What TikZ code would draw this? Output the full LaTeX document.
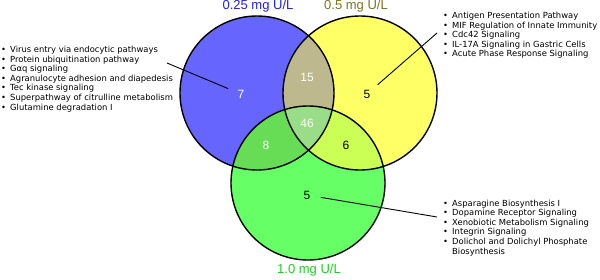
\documentclass[tikz,border=0pt]{standalone}
\usepackage{fontspec}
\setmainfont{Liberation Sans}
\newfontfamily\listfont{DejaVu Sans}
\usetikzlibrary{positioning,calc}

\definecolor{vblue}{HTML}{6666FF}
\definecolor{vyel}{HTML}{FFFF66}
\definecolor{vgrn}{HTML}{66FF66}
\definecolor{vby}{HTML}{BDB88E}
\definecolor{vbg}{HTML}{66DD55}
\definecolor{vyg}{HTML}{CCFF55}
\definecolor{vbyg}{HTML}{99DD88}
\definecolor{lblue}{HTML}{2222DD}
\definecolor{lolive}{HTML}{777722}
\definecolor{lgreen}{HTML}{22CC22}

\newcommand{\bul}{\makebox[9pt][l]{\textbullet}}
\newcommand{\nobul}{\makebox[9pt][l]{}}

\begin{document}
\begin{tikzpicture}[x=1pt, y=-1pt,
  ring/.style={draw=black, line width=1.4pt},
  count/.style={circle, inner sep=6pt, font=\fontsize{12}{14}\selectfont},
  conc/.style={font=\fontsize{13}{15}\selectfont},
  plist/.style={anchor=north west, inner sep=0pt, align=left,
    font=\listfont\fontsize{8.4}{9.6}\selectfont},
  pointer/.style={black, line width=0.9pt}]
\useasboundingbox (0,0) rectangle (600,279);
\coordinate (cB) at (257,93);
\coordinate (cY) at (360,93);
\coordinate (cG) at (308,183);

% filled sets and overlaps
\fill[vblue] (cB) circle[radius=77pt];
\fill[vyel] (cY) circle[radius=77pt];
\fill[vgrn] (cG) circle[radius=77pt];
\begin{scope}
  \clip (cB) circle[radius=77pt];
  \fill[vby] (cY) circle[radius=77pt];
  \fill[vbg] (cG) circle[radius=77pt];
\end{scope}
\begin{scope}
  \clip (cY) circle[radius=77pt];
  \fill[vyg] (cG) circle[radius=77pt];
  \clip (cB) circle[radius=77pt];
  \fill[vbyg] (cG) circle[radius=77pt];
\end{scope}
\draw[ring] (cB) circle[radius=77pt];
\draw[ring] (cY) circle[radius=77pt];
\draw[ring] (cG) circle[radius=77pt];

% set labels
\node[conc, text=lblue] (tB) at (258,6) {0.25 mg U/L};
\node[conc, text=lolive] (tY) at (356,6) {0.5 mg U/L};
\node[conc, text=lgreen] (tG) at (309,270) {1.0 mg U/L};

% counts
\node[count, text=white] (n7) at (241,94) {7};
\node[count, text=white] (n15) at (307,77) {15};
\node[count] (n5y) at (367,94) {5};
\node[count, text=white] (n46) at (307,123) {46};
\node[count, text=white] (n8) at (266,145) {8};
\node[count] (n6) at (346,145) {6};
\node[count] (n5g) at (307,195) {5};

% pathway lists
\node[plist] (pB) at (1,46) {\bul Virus entry via endocytic pathways\\
  \bul Protein ubiquitination pathway\\
  \bul Gαq signaling\\
  \bul Agranulocyte adhesion and diapedesis\\
  \bul Tec kinase signaling\\
  \bul Superpathway of citrulline metabolism\\
  \bul Glutamine degradation I};
\node[plist] (pY) at (443,12) {\bul Antigen Presentation Pathway\\
  \bul MIF Regulation of Innate Immunity\\
  \bul Cdc42 Signaling\\
  \bul IL-17A Signaling in Gastric Cells\\
  \bul Acute Phase Response Signaling};
\node[plist] (pG) at (443,199.5) {\bul Asparagine Biosynthesis I\\
  \bul Dopamine Receptor Signaling\\
  \bul Xenobiotic Metabolism Signaling\\
  \bul Integrin Signaling\\
  \bul Dolichol and Dolichyl Phosphate\\
  \nobul Biosynthesis};

% pointers
\coordinate (eB) at (167,63);
\coordinate (eY) at (437,33);
\coordinate (eG) at (437,217);
\draw[pointer] (n7) -- (eB);
\draw[pointer] (n5y) -- (eY);
\draw[pointer] (n5g) -- (eG);
\end{tikzpicture}
\end{document}
